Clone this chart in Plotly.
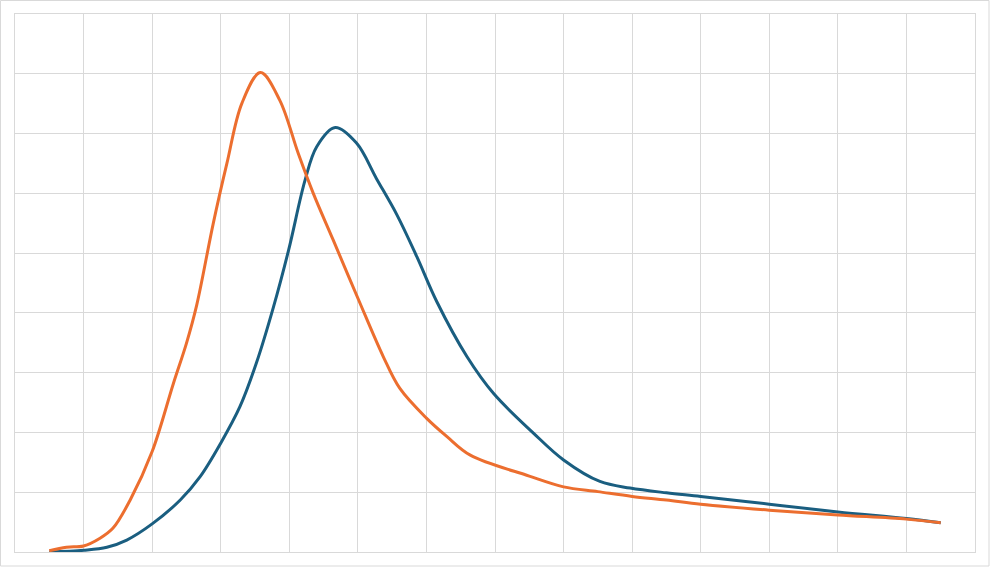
# %%
# imports
import plotly.graph_objects as go

# %%
# Data (x in grid columns, y in grid rows)
blue_x = [0.5, 1.0, 1.34, 1.63, 2.0, 2.41, 2.70, 3.0, 3.28, 3.52, 3.77, 3.99, 4.23,
          4.40, 4.67, 4.98, 5.27, 5.57, 5.86, 6.15, 6.59, 6.98, 7.56, 8.0, 8.53,
          8.97, 9.5, 10.0, 11.0, 12.0, 13.0, 13.5]
blue_y = [0.0, 0.03, 0.08, 0.2, 0.47, 0.87, 1.26, 1.82, 2.43, 3.16, 4.10, 5.05, 6.22,
          6.78, 7.10, 6.84, 6.25, 5.64, 4.94, 4.19, 3.27, 2.65, 1.99, 1.54, 1.18,
          1.07, 0.99, 0.93, 0.80, 0.67, 0.56, 0.49]

orange_x = [0.5, 0.75, 1.0, 1.24, 1.43, 1.68, 2.0, 2.31, 2.50, 2.65, 2.89, 3.09, 3.31,
            3.58, 3.86, 4.13, 4.35, 4.64, 5.01, 5.37, 5.61, 6.0, 6.30, 6.64, 7.5,
            8.0, 8.5, 9.0, 9.5, 10.0, 11.0, 12.0, 13.0, 13.5]
orange_y = [0.02, 0.08, 0.1, 0.23, 0.40, 0.87, 1.68, 2.82, 3.49, 4.13, 5.49, 6.5, 7.51,
            8.02, 7.56, 6.67, 6.0, 5.22, 4.22, 3.27, 2.74, 2.24, 1.93, 1.62, 1.27,
            1.09, 1.01, 0.93, 0.87, 0.80, 0.70, 0.62, 0.55, 0.49]

# %%
fig = go.Figure()
fig.add_trace(go.Scatter(x=blue_x, y=blue_y, mode="lines",
                         line=dict(color="#1a5e80", width=3, shape="spline", smoothing=1.0)))
fig.add_trace(go.Scatter(x=orange_x, y=orange_y, mode="lines",
                         line=dict(color="#ec6e2f", width=3, shape="spline", smoothing=1.0)))

grid = "#d9d9d9"
fig.update_xaxes(range=[0, 14], dtick=1, showgrid=True, gridcolor=grid, gridwidth=1,
                 showticklabels=False, zeroline=False, showline=True, linecolor=grid,
                 mirror=True, ticks="")
fig.update_yaxes(range=[0, 9], dtick=1, showgrid=True, gridcolor=grid, gridwidth=1,
                 showticklabels=False, zeroline=False, showline=True, linecolor=grid,
                 mirror=True, ticks="")

# thin border round the whole picture
w, h = 960, 538
fig.add_shape(type="rect", xref="paper", yref="paper",
              x0=-14.5 / w, x1=1 + 14 / w, y0=-14 / h, y1=1 + 13.5 / h,
              line=dict(color=grid, width=1), layer="below")

fig.update_layout(
    width=990, height=567,
    margin=dict(l=15, r=15, t=14, b=15),
    paper_bgcolor="white", plot_bgcolor="white",
    showlegend=False,
)
# drop the page's default body margin so the chart sits at the window corner
fig.write_html("out.html", config={"displayModeBar": False},
               post_script="document.body.style.margin='0';")
